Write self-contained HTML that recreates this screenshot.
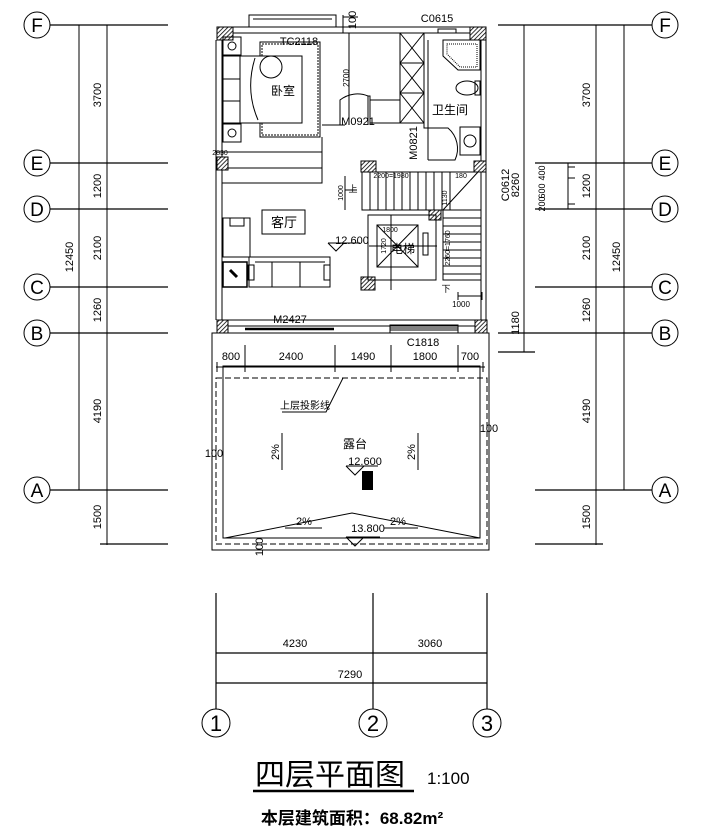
<!DOCTYPE html>
<html><head><meta charset="utf-8"><style>
html,body{margin:0;padding:0;background:#fff;}
svg{display:block;}
text{font-family:"Liberation Sans","Noto Sans CJK SC",sans-serif;fill:#000;}
</style></head><body>
<svg width="702" height="834" viewBox="0 0 702 834" xmlns="http://www.w3.org/2000/svg">
<defs>
<pattern id="h" width="3" height="3" patternUnits="userSpaceOnUse" patternTransform="rotate(45)"><rect width="3" height="3" fill="#fff"/><line x1="0" y1="0" x2="0" y2="3" stroke="#000" stroke-width="1.6"/></pattern>
</defs>
<g stroke="#000" stroke-width="1" fill="none">
<!-- left axes -->
<g>
<circle cx="37" cy="25" r="13"/><circle cx="37" cy="163" r="13"/><circle cx="37" cy="209" r="13"/><circle cx="37" cy="287" r="13"/><circle cx="37" cy="333" r="13"/><circle cx="37" cy="490" r="13"/>
<path d="M50 25H168M50 163H168M50 209H168M50 287H168M50 333H168M50 490H168M100 544H168" stroke-width="1.3"/>
<path d="M79 25V490M107 25V545"/>
</g>
<!-- right axes -->
<g>
<circle cx="665" cy="25" r="13"/><circle cx="665" cy="163" r="13"/><circle cx="665" cy="209" r="13"/><circle cx="665" cy="287" r="13"/><circle cx="665" cy="333" r="13"/><circle cx="665" cy="490" r="13"/>
<path d="M498 25H652M535 163H652M535 209H652M535 287H652M498 333H652M535 490H652M535 544H603M498 352H535" stroke-width="1.3"/>
<path d="M524 25V352M596 25V545M624 25V490M568 163V209M568 167H575M568 178H575M568 204H575"/>
</g>
<!-- bottom axes -->
<path d="M216 593V709M373 593V709M487 593V709M216 653H487M216 683H487" stroke-width="1.2"/>
<circle cx="216" cy="723" r="14"/><circle cx="373" cy="723" r="14"/><circle cx="487" cy="723" r="14"/>
<!-- title underline -->
<path d="M253 791H414" stroke-width="2.5"/>

<!-- building walls -->
<path d="M216 40V320M222 40V157M222 170V320M481 40V161M486 40V161M481 172V320M486 172V320"/>
<path d="M233 27H470M233 33H470M228 320H475M228 326H475"/>
<!-- top window -->
<rect x="249" y="15" width="87" height="12"/><path d="M253 19H332"/>
<!-- columns -->
<g fill="url(#h)" stroke-width="1">
<rect x="217" y="27" width="16" height="13"/><rect x="470" y="27" width="16" height="13"/>
<rect x="217" y="157" width="11" height="13"/><rect x="361" y="161" width="15" height="11"/>
<rect x="474" y="161" width="12" height="11"/><rect x="429" y="210" width="12" height="10"/>
<rect x="361" y="277" width="14" height="13"/><rect x="217" y="320" width="11" height="13"/>
<rect x="475" y="320" width="12" height="13"/>
</g>
<!-- 100 dim top -->
<path d="M343 15V33M343 17H358M343 27H358"/>
<path d="M349 33V125" stroke-width="1"/>
<!-- bedroom -->
<rect x="260" y="42" width="60" height="95"/><rect x="262" y="44" width="56" height="91" stroke-dasharray="2,1"/>
<rect x="223" y="56" width="79" height="67" fill="#fff"/>
<rect x="223" y="56" width="17" height="67"/><path d="M223 79H240M223 101H240"/>
<circle cx="271" cy="67" r="11"/>
<path d="M255 58Q245 90 258 120"/>
<rect x="223" y="37" width="18" height="18"/><circle cx="232" cy="46" r="4"/>
<rect x="223" y="124" width="18" height="18"/><circle cx="232" cy="133" r="4"/>
<path d="M216 152H322M216 150V155M322 150V155"/>
<path d="M228 168H322V183H222M322 137V168M322 125H345"/>
<!-- door M0921 -->
<path d="M340 125V100A28 28 0 0 1 368 96V125M368 96H370V125"/>
<path d="M370 100H400V123H370"/>
<!-- wardrobe -->
<rect x="400" y="33" width="24" height="90"/>
<path d="M400 33L424 63L400 93L424 123M424 33L400 63L424 93L400 123M400 63H424M400 93H424"/>
<path d="M424 123V128H428M428 40V160"/>
<!-- bathroom door M0821 -->
<path d="M428 128H448A27 27 0 0 1 455 160H428"/>
<!-- shower -->
<path d="M443 40H480V70H458L443 56Z"/><path d="M447 44H477V67H460L447 54Z" stroke-dasharray="1,1"/>
<rect x="438" y="29" width="18" height="4"/>
<ellipse cx="467" cy="88" rx="11" ry="7"/><rect x="475" y="81" width="5" height="14"/>
<rect x="460" y="127" width="20" height="28"/><circle cx="470" cy="141" r="6"/>
<!-- stairs -->
<rect x="362" y="172" width="119" height="38"/>
<path d="M370 172V210M378 172V210M386 172V210M394 172V210M402 172V210M410 172V210M418 172V210M426 172V210M434 172V210M442 172V210M450 172V210"/>
<path d="M443 210V280H481M443 218H481M443 226H481M443 234H481M443 242H481M443 250H481M443 258H481M443 266H481M443 274H481M443 210L478 172"/>
<path d="M345 176V210M345 190H357M458 296H482M458 292V300M482 292V300"/>
<!-- elevator -->
<path d="M368 215H436V280H368Z"/>
<rect x="377" y="225" width="41" height="42"/><path d="M377 225L418 267M418 225L377 267M369 246H437M391 215V290"/>
<rect x="423" y="233" width="5" height="22"/>
<!-- living -->
<rect x="262" y="210" width="43" height="24"/>
<rect x="223" y="218" width="27" height="39"/><rect x="230" y="218" width="14" height="8"/>
<rect x="223" y="262" width="24" height="25" stroke-width="1.5"/><path d="M230 270l7 7" stroke-width="3"/>
<rect x="249" y="257" width="81" height="30"/><path d="M255 262H325M272 262V287M300 262V287"/>
<rect x="248" y="265" width="6" height="15"/><rect x="324" y="265" width="6" height="15"/>
<!-- level marker -->
<path d="M328 243H360M328 243L336 251L344 243"/>
<!-- B line openings -->
<path d="M245 329H334" stroke-width="2.5"/>
<rect x="390" y="325" width="68" height="8"/><path d="M390 328H458M390 330H458"/>
<!-- balcony -->
<rect x="212" y="333" width="277" height="217"/>
<path d="M216 378H487V544H216Z" stroke-dasharray="6,3"/>
<path d="M223 366H480V538H223Z"/>
<path d="M216 367H485M217 362V372M245 362V372M335 362V372M391 362V372M458 362V372M483 362V372"/>
<path d="M245 345V372M335 345V372M391 345V372M458 345V372"/>
<path d="M225 538L352 513L480 538"/>
<path d="M282 433V470M418 433V470"/>
<path d="M285 528H322M384 528H418"/>
<path d="M282 412H326L343 378"/>
<path d="M346 466H378M346 466L355 475L364 466M346 537H380M346 537L355 546L364 537"/>
</g>
<rect x="362" y="471" width="11" height="19" fill="#000"/>

<!-- texts -->
<g font-family="'Liberation Serif',serif" font-size="19" text-anchor="middle">
<text x="37" y="32">F</text><text x="37" y="170">E</text><text x="37" y="216">D</text><text x="37" y="294">C</text><text x="37" y="340">B</text><text x="37" y="497">A</text>
<text x="665" y="32">F</text><text x="665" y="170">E</text><text x="665" y="216">D</text><text x="665" y="294">C</text><text x="665" y="340">B</text><text x="665" y="497">A</text>
<text x="216" y="731" font-size="22">1</text><text x="373" y="731" font-size="22">2</text><text x="487" y="731" font-size="22">3</text>
</g>
<g font-size="11" text-anchor="middle">
<text transform="translate(101,95) rotate(-90)">3700</text>
<text transform="translate(101,186) rotate(-90)">1200</text>
<text transform="translate(101,248) rotate(-90)">2100</text>
<text transform="translate(101,310) rotate(-90)">1260</text>
<text transform="translate(101,411) rotate(-90)">4190</text>
<text transform="translate(101,517) rotate(-90)">1500</text>
<text transform="translate(73,257) rotate(-90)">12450</text>
<text transform="translate(590,95) rotate(-90)">3700</text>
<text transform="translate(590,186) rotate(-90)">1200</text>
<text transform="translate(590,248) rotate(-90)">2100</text>
<text transform="translate(590,310) rotate(-90)">1260</text>
<text transform="translate(590,411) rotate(-90)">4190</text>
<text transform="translate(590,517) rotate(-90)">1500</text>
<text transform="translate(620,257) rotate(-90)">12450</text>
<text transform="translate(519,323) rotate(-90)">1180</text>
<text transform="translate(519,185) rotate(-90)">8260</text>
<text transform="translate(509,185) rotate(-90)">C0612</text>
<text transform="translate(545,173) rotate(-90)" font-size="9">400</text>
<text transform="translate(545,191) rotate(-90)" font-size="9">600</text>
<text transform="translate(545,204) rotate(-90)" font-size="9">200</text>
<text transform="translate(356,20) rotate(-90)">100</text>
<text transform="translate(349,78) rotate(-90)" font-size="8">2700</text>
<text transform="translate(417,143) rotate(-90)">M0821</text>
<text transform="translate(220,155)" font-size="7">2830</text>
<text x="295" y="647">4230</text><text x="430" y="647">3060</text><text x="350" y="678">7290</text>
<text x="299" y="45">TC2118</text><text x="437" y="22">C0615</text>
<text x="358" y="125">M0921</text>
<text x="290" y="323">M2427</text><text x="423" y="346">C1818</text>
<text x="231" y="360">800</text><text x="291" y="360">2400</text><text x="363" y="360">1490</text><text x="425" y="360">1800</text><text x="470" y="360">700</text>
<text x="352" y="244">12.600</text><text x="365" y="465">12.600</text><text x="368" y="532">13.800</text>
<text x="304" y="525">2%</text><text x="398" y="525">2%</text>
<text transform="translate(279,452) rotate(-90)">2%</text><text transform="translate(415,452) rotate(-90)">2%</text>
<text x="214" y="457">100</text><text x="489" y="432">100</text>
<text transform="translate(263,547) rotate(-90)">100</text>
<text x="391" y="178" font-size="7">2200=1980</text>
<text x="461" y="178" font-size="7">180</text>
<text x="390" y="232" font-size="7">1800</text>
<text transform="translate(386,246) rotate(-90)" font-size="7">1720</text>
<text transform="translate(450,248) rotate(-90)" font-size="7">2260=1760</text>
<text transform="translate(447,198) rotate(-90)" font-size="7">1130</text>
<text transform="translate(343,193) rotate(-90)" font-size="7">1000</text>
<text x="461" y="307" font-size="8">1000</text>
</g>
<g font-family="'Liberation Sans','Noto Sans CJK SC',sans-serif" text-anchor="middle">
<text x="283" y="95" font-size="12">卧室</text>
<text x="450" y="114" font-size="12">卫生间</text>
<text x="284" y="227" font-size="13">客厅</text>
<text x="403" y="253" font-size="12">电梯</text>
<text x="355" y="448" font-size="12">露台</text>
<text x="305" y="409" font-size="10">上层投影线</text>
<text x="353" y="192" font-size="9">上</text>
<text x="446" y="292" font-size="9">下</text>
<text x="330" y="785" font-size="30" font-family="'Noto Serif CJK SC',serif">四层平面图</text>
<text x="352" y="824" font-size="17" font-weight="bold">本层建筑面积：68.82m²</text>
</g>
<text x="427" y="784" font-size="17" font-family="'Liberation Serif',serif">1:100</text>
</svg>
</body></html>
